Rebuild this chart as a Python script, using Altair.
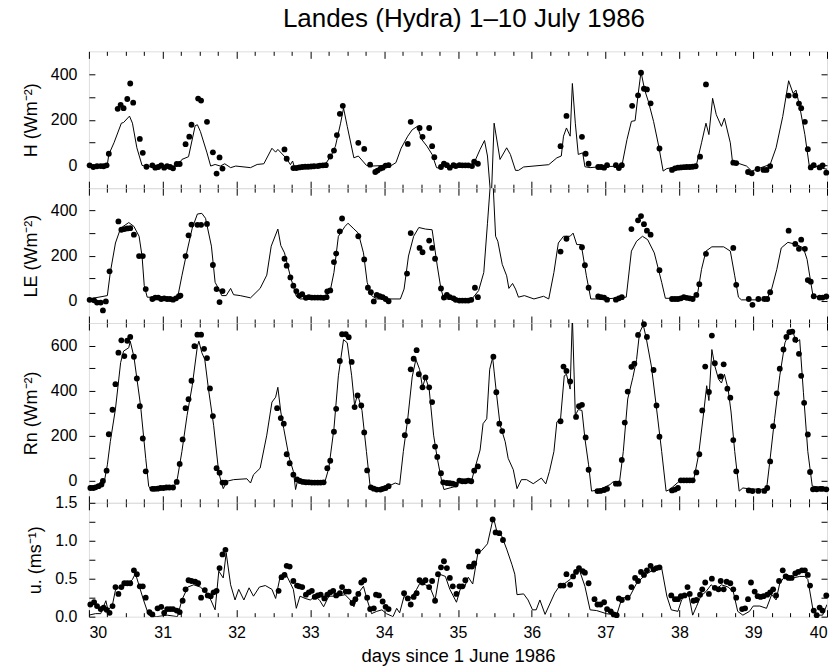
import altair as alt
import pandas as pd

TITLE = "Landes (Hydra) 1\u201310 July 1986"
X_TITLE = "days since 1 June 1986"

H_MODEL = [(30.00,0),(30.25,4),(30.27,48),(30.34,99),(30.44,185),(30.47,188),(30.55,216),(30.59,185),(30.65,77),(30.72,0),(30.79,-6),(31.20,-3),(31.26,26),(31.35,38),(31.44,174),(31.47,178),(31.51,149),(31.60,55),(31.65,-3),(31.71,4),(31.78,-3),(31.84,7),(31.92,-10),(31.99,-3),(32.19,-10),(32.28,4),(32.37,7),(32.48,75),(32.53,58),(32.56,70),(32.68,29),(32.73,3),(32.76,19),(32.78,-3),(33.20,3),(33.29,48),(33.34,84),(33.41,185),(33.45,251),(33.50,171),(33.59,33),(33.65,41),(33.76,0),(33.83,-3),(34.03,0),(34.10,0),(34.16,12),(34.23,75),(34.32,128),(34.38,156),(34.45,171),(34.51,113),(34.58,84),(34.65,48),(34.71,-10),(34.78,-14),(34.81,0),(35.20,-3),(35.30,70),(35.36,109),(35.40,41),(35.45,-160),(35.49,185),(35.57,26),(35.66,77),(35.71,48),(35.78,-22),(35.82,-22),(35.89,-7),(36.23,3),(36.34,33),(36.40,41),(36.43,128),(36.47,164),(36.52,128),(36.55,359),(36.59,185),(36.63,48),(36.69,55),(36.72,-6),(36.79,-10),(36.93,-6),(37.22,-3),(37.29,113),(37.35,193),(37.40,196),(37.44,309),(37.48,410),(37.53,330),(37.58,280),(37.65,193),(37.72,84),(37.78,-25),(37.83,-14),(37.87,-12),(38.23,1),(38.30,99),(38.36,185),(38.40,135),(38.45,294),(38.50,222),(38.57,171),(38.61,207),(38.69,99),(38.72,14),(38.77,12),(38.91,-3),(38.98,-25),(39.07,-14),(39.23,4),(39.31,77),(39.40,214),(39.48,371),(39.54,316),(39.58,330),(39.63,258),(39.70,135),(39.76,-3),(39.81,0),(39.90,-10),(40.00,-17)]

H_OBS = [(30.01,0),(30.06,-7),(30.11,-4),(30.16,-3),(30.20,-4),(30.24,0),(30.27,51),(30.39,248),(30.43,265),(30.47,251),(30.52,291),(30.56,359),(30.60,275),(30.69,116),(30.73,55),(30.78,-6),(30.86,0),(30.90,-10),(30.94,-7),(30.98,0),(31.02,-10),(31.06,-3),(31.10,-7),(31.14,-13),(31.19,6),(31.23,6),(31.31,93),(31.36,126),(31.39,178),(31.48,293),(31.52,284),(31.60,191),(31.68,57),(31.73,-36),(31.77,35),(31.81,-14),
         (32.65,70),(32.68,29),(32.77,-12),(32.81,-12),(32.85,-9),(32.89,-7),(32.93,-6),(32.97,-6),(33.01,-5),(33.05,-4),(33.10,-3),(33.13,-1),(33.17,0),(33.21,1),(33.27,39),(33.32,65),(33.36,133),(33.40,226),(33.44,261),(33.65,99),(33.73,72),(33.81,3),(33.88,-29),(33.91,-23),(33.95,-14),(33.98,-10),(34.02,-1),(34.06,1),
         (34.32,94),(34.36,191),(34.48,164),(34.52,125),(34.61,164),(34.65,84),(34.68,36),(34.77,-7),(34.81,7),(34.85,1),(34.89,-10),(34.94,1),(34.97,-3),(35.02,1),(35.06,0),(35.10,0),(35.14,0),(35.19,-3),(35.22,16),(35.27,7),
         (36.39,84),(36.47,217),(36.68,125),(36.73,51),(36.77,7),(36.90,-7),(36.94,-7),(36.98,-10),(37.02,1),(37.14,1),(37.18,-12),(37.22,1),(37.36,261),(37.44,307),(37.48,406),(37.52,336),(37.56,333),(37.61,272),(37.73,74),
         (37.90,-20),(37.94,-13),(37.98,-10),(38.02,-9),(38.06,-8),(38.10,-7),(38.14,-7),(38.18,-6),(38.22,-4),(38.28,38),(38.36,355),(38.73,12),(38.77,10),(38.93,-29),(38.98,-35),(39.06,-16),(39.14,-20),(39.18,-20),(39.23,-3),(39.48,306),(39.57,306),(39.62,271),(39.65,251),(39.70,191),(39.74,71),(39.78,-9),(39.82,1),(39.90,-9),(39.94,0),(39.99,-32)]

LE_MODEL = [(30.00,7),(30.25,22),(30.29,125),(30.36,256),(30.43,322),(30.54,347),(30.61,330),(30.68,286),(30.72,198),(30.75,66),(30.79,15),(31.20,10),(31.26,110),(31.33,220),(31.40,322),(31.47,385),(31.53,388),(31.58,366),(31.66,242),(31.71,81),(31.76,51),(31.80,22),(31.86,22),(31.92,54),(31.96,26),(32.05,22),(32.19,12),(32.32,54),(32.41,113),(32.47,242),(32.56,318),(32.60,245),(32.65,212),(32.73,107),(32.81,19),(32.86,7),(33.20,10),(33.27,44),(33.32,125),(33.38,286),(33.47,330),(33.51,344),(33.58,322),(33.65,300),(33.72,212),(33.77,81),(33.83,22),(33.90,7),(34.22,7),(34.27,51),(34.33,198),(34.40,286),(34.47,325),(34.56,318),(34.65,315),(34.72,154),(34.77,51),(34.81,7),(35.19,7),(35.28,44),(35.35,125),(35.40,344),(35.45,570),(35.47,560),(35.51,286),(35.54,264),(35.60,161),(35.66,110),(35.69,54),(35.74,76),(35.78,51),(35.82,15),(35.90,22),(36.03,7),(36.16,19),(36.23,7),(36.30,125),(36.36,256),(36.43,286),(36.52,286),(36.56,300),(36.61,249),(36.67,249),(36.74,110),(36.80,7),(37.00,7),(37.28,15),(37.35,220),(37.42,264),(37.50,286),(37.57,271),(37.66,212),(37.76,81),(37.81,10),(37.96,10),(38.19,15),(38.25,37),(38.30,139),(38.36,220),(38.44,239),(38.60,239),(38.69,220),(38.75,110),(38.80,15),(38.84,3),(39.18,3),(39.25,51),(39.32,139),(39.38,234),(39.47,259),(39.59,249),(39.68,234),(39.73,183),(39.78,81),(39.81,22),(40.00,7)]

LE_OBS = [(30.01,3),(30.07,1),(30.11,-9),(30.16,-9),(30.19,-44),(30.23,-4),(30.28,130),(30.40,352),(30.44,315),(30.48,318),(30.52,321),(30.56,322),(30.61,293),(30.68,198),(30.73,198),(30.77,51),(30.86,7),(30.90,13),(30.94,13),(30.98,7),(31.02,10),(31.06,7),(31.10,7),(31.14,4),(31.18,10),(31.22,19),(31.24,22),(31.31,198),(31.35,290),(31.39,338),(31.47,337),(31.52,337),(31.60,341),(31.68,158),(31.73,51),(31.77,-7),(31.81,42),
          (32.65,186),(32.68,155),(32.73,103),(32.77,66),(32.81,42),(32.85,22),(32.89,28),(32.94,12),(32.98,15),(33.02,13),(33.06,13),(33.10,13),(33.14,13),(33.18,12),(33.22,15),(33.23,41),(33.27,45),(33.32,171),(33.35,209),(33.40,308),(33.43,365),(33.65,286),(33.73,183),(33.78,57),(33.82,37),(33.86,-4),(33.90,25),(33.94,19),(33.98,15),(34.02,7),(34.06,-3),
          (34.31,120),(34.36,300),(34.48,234),(34.52,215),(34.61,267),(34.65,234),(34.69,186),(34.77,54),(34.81,13),(34.85,25),(34.89,15),(34.94,10),(34.97,3),(35.02,0),(35.06,0),(35.10,0),(35.14,0),(35.18,3),(35.23,57),(35.27,15),
          (36.39,218),(36.47,275),(36.68,237),(36.72,157),(36.77,57),(36.90,18),(36.94,15),(36.98,13),(37.02,4),(37.14,4),(37.18,10),(37.22,15),(37.35,318),(37.44,357),(37.48,376),(37.52,340),(37.56,311),(37.61,293),(37.73,135),
          (37.90,7),(37.94,7),(37.98,7),(38.02,10),(38.06,15),(38.10,12),(38.14,10),(38.18,7),(38.23,25),(38.27,73),(38.36,208),(38.73,234),(38.77,70),(38.94,7),(38.99,-19),(39.07,7),(39.15,7),(39.19,7),(39.23,37),(39.48,311),(39.57,252),(39.62,230),(39.65,271),(39.70,230),(39.74,91),(39.78,84),(39.82,19),(39.90,13),(39.94,13),(39.99,18)]

RN_MODEL = [(30.00,-26),(30.16,-22),(30.21,-4),(30.25,69),(30.29,172),(30.36,318),(30.43,524),(30.47,575),(30.54,590),(30.56,619),(30.61,550),(30.70,333),(30.77,98),(30.81,-26),(30.84,-41),(31.15,-34),(31.20,10),(31.26,128),(31.33,289),(31.40,421),(31.47,597),(31.49,619),(31.53,568),(31.57,538),(31.62,406),(31.69,245),(31.76,32),(31.82,-37),(31.87,-4),(31.96,3),(32.14,7),(32.19,-12),(32.23,25),(32.32,54),(32.41,201),(32.48,348),(32.53,370),(32.56,414),(32.60,304),(32.64,230),(32.71,106),(32.77,40),(32.80,-41),(32.83,3),(33.20,-4),(33.25,54),(33.32,230),(33.38,465),(33.45,626),(33.50,612),(33.56,465),(33.60,333),(33.64,384),(33.70,311),(33.76,128),(33.81,-26),(33.88,-41),(34.06,-26),(34.15,-12),(34.21,-19),(34.26,128),(34.32,274),(34.38,460),(34.43,538),(34.48,494),(34.52,414),(34.56,458),(34.61,406),(34.67,201),(34.72,98),(34.78,-4),(34.81,-41),(34.98,-26),(35.02,-4),(35.18,-7),(35.23,54),(35.30,135),(35.34,252),(35.39,274),(35.43,494),(35.47,546),(35.52,392),(35.57,248),(35.64,172),(35.68,98),(35.75,47),(35.80,-37),(35.86,3),(35.93,3),(36.02,-15),(36.13,10),(36.19,-16),(36.24,40),(36.30,128),(36.34,260),(36.39,274),(36.44,465),(36.47,472),(36.52,406),(36.55,730),(36.59,289),(36.63,315),(36.68,311),(36.72,186),(36.77,69),(36.81,-48),(36.92,-41),(37.06,-19),(37.10,-7),(37.19,-4),(37.24,128),(37.30,362),(37.37,458),(37.42,538),(37.46,656),(37.51,692),(37.55,634),(37.62,509),(37.68,348),(37.76,128),(37.82,-48),(37.87,-41),(37.97,-12),(38.00,-4),(38.19,-4),(38.26,113),(38.33,304),(38.37,421),(38.40,355),(38.44,582),(38.48,509),(38.53,450),(38.57,433),(38.61,472),(38.66,406),(38.70,304),(38.75,128),(38.81,-48),(38.86,-34),(38.95,-38),(39.18,-41),(39.22,69),(39.29,274),(39.36,465),(39.43,612),(39.49,656),(39.54,663),(39.58,612),(39.63,626),(39.68,392),(39.74,128),(39.80,-26),(40.00,-34)]

RN_OBS = [(30.02,-34),(30.06,-34),(30.09,-31),(30.13,-26),(30.17,-19),(30.19,-3),(30.24,43),(30.27,205),(30.32,314),(30.36,428),(30.40,568),(30.44,623),(30.48,553),(30.52,621),(30.56,638),(30.61,550),(30.65,453),(30.69,330),(30.73,186),(30.77,40),(30.86,-38),(30.89,-38),(30.93,-37),(30.97,-34),(31.01,-34),(31.05,-32),(31.09,-32),(31.14,-32),(31.19,-7),(31.23,73),(31.27,182),(31.31,321),(31.35,361),(31.39,443),(31.43,597),(31.47,648),(31.52,648),(31.56,585),(31.60,544),(31.64,409),(31.68,286),(31.73,54),(31.77,34),(31.81,-10),(31.85,-10),
          (32.55,321),(32.60,277),(32.64,252),(32.68,116),(32.72,76),(32.77,25),(32.82,4),(32.86,-3),(32.90,-7),(32.94,-9),(32.98,-9),(33.02,-10),(33.06,-10),(33.10,-10),(33.14,-10),(33.18,-9),(33.23,54),(33.27,87),(33.32,216),(33.35,318),(33.40,531),(33.43,650),(33.48,650),(33.52,637),(33.56,527),(33.60,326),(33.64,378),(33.69,333),(33.73,213),(33.77,44),(33.82,-31),(33.86,-37),(33.90,-41),(33.95,-41),(33.98,-38),(34.02,-34),(34.06,-26),
          (34.28,201),(34.32,263),(34.36,494),(34.40,541),(34.44,579),(34.47,472),(34.52,414),(34.56,458),(34.61,414),(34.65,348),(34.69,150),(34.72,104),(34.77,32),(34.80,-9),(34.85,-12),(34.89,-13),(34.93,-15),(34.97,-19),(35.02,-1),(35.06,-4),(35.10,-4),(35.14,-1),(35.18,-4),(35.22,43),(35.27,62),(35.48,550),(35.52,392),(35.56,252),(35.60,219),
          (36.39,263),(36.43,506),(36.47,487),(36.52,440),(36.60,282),(36.64,330),(36.68,336),(36.73,191),(36.77,47),(36.89,-48),(36.93,-47),(36.98,-43),(37.02,-38),(37.14,-15),(37.18,-15),(37.22,91),(37.26,257),(37.30,395),(37.35,505),(37.39,519),(37.44,647),(37.52,695),(37.56,638),(37.65,491),(37.69,333),(37.73,194),(37.90,-45),(37.94,-41),(37.98,-34),(38.02,0),(38.06,0),(38.10,0),(38.14,0),(38.18,0),(38.23,35),(38.27,116),(38.31,311),(38.35,506),(38.40,393),(38.44,644),(38.48,521),(38.56,462),(38.60,516),(38.65,408),(38.69,368),(38.73,179),(38.77,40),(38.94,-45),(38.99,-48),(39.07,-47),(39.15,-47),(39.19,-34),(39.23,84),(39.27,241),(39.32,387),(39.36,497),(39.41,582),(39.45,638),(39.49,659),(39.53,662),(39.57,626),(39.62,563),(39.65,465),(39.69,345),(39.74,204),(39.77,37),(39.81,-40),(39.86,-40),(39.91,-38),(39.94,-38),(39.99,-40)]

U_MODEL = [(30.00,0.02),(30.09,0.04),(30.16,0.04),(30.23,0.21),(30.26,0.08),(30.32,0.16),(30.36,0.35),(30.43,0.40),(30.52,0.42),(30.59,0.49),(30.63,0.57),(30.68,0.41),(30.74,0.22),(30.81,0.02),(30.92,0.00),(31.06,0.02),(31.20,0.00),(31.26,0.22),(31.34,0.39),(31.42,0.42),(31.51,0.39),(31.62,0.29),(31.71,0.09),(31.76,0.60),(31.82,0.51),(31.86,0.84),(31.92,0.42),(31.98,0.22),(32.03,0.36),(32.10,0.22),(32.17,0.38),(32.23,0.27),(32.31,0.39),(32.39,0.41),(32.48,0.36),(32.53,0.24),(32.59,0.52),(32.66,0.58),(32.73,0.44),(32.77,0.36),(32.81,0.11),(32.86,0.27),(32.93,0.24),(33.00,0.22),(33.07,0.27),(33.13,0.21),(33.18,0.13),(33.25,0.27),(33.32,0.27),(33.38,0.27),(33.47,0.29),(33.54,0.22),(33.59,0.13),(33.65,0.31),(33.72,0.40),(33.77,0.22),(33.83,0.04),(33.90,0.07),(33.97,0.09),(34.03,0.04),(34.12,0.00),(34.17,0.11),(34.21,0.05),(34.27,0.27),(34.31,0.22),(34.38,0.27),(34.44,0.36),(34.49,0.45),(34.56,0.42),(34.62,0.39),(34.69,0.22),(34.75,0.56),(34.83,0.53),(34.89,0.36),(34.98,0.19),(35.03,0.36),(35.09,0.39),(35.14,0.52),(35.20,0.43),(35.27,0.84),(35.32,0.87),(35.40,0.96),(35.48,1.31),(35.53,1.11),(35.59,1.07),(35.66,0.89),(35.73,0.69),(35.77,0.56),(35.80,0.29),(35.89,0.30),(35.95,0.22),(36.01,0.09),(36.06,0.09),(36.11,0.22),(36.18,0.03),(36.25,0.18),(36.31,0.31),(36.38,0.41),(36.45,0.44),(36.52,0.49),(36.58,0.56),(36.65,0.60),(36.72,0.40),(36.79,0.09),(36.88,0.08),(37.01,0.04),(37.15,0.02),(37.22,0.24),(37.33,0.27),(37.42,0.44),(37.55,0.56),(37.69,0.64),(37.76,0.64),(37.83,0.27),(37.89,0.09),(37.98,0.07),(38.03,0.22),(38.09,0.29),(38.13,0.27),(38.18,0.02),(38.23,0.13),(38.29,0.27),(38.36,0.33),(38.43,0.42),(38.50,0.36),(38.57,0.42),(38.66,0.39),(38.73,0.33),(38.79,0.07),(38.86,0.02),(38.95,0.07),(39.00,0.14),(39.09,0.14),(39.18,0.11),(39.25,0.29),(39.31,0.22),(39.36,0.44),(39.45,0.56),(39.54,0.51),(39.63,0.53),(39.70,0.53),(39.74,0.49),(39.81,0.09),(39.88,0.02),(39.94,0.02),(40.00,0.16)]

U_OBS = [(30.02,0.16),(30.07,0.19),(30.11,0.14),(30.16,0.10),(30.20,0.12),(30.24,0.09),(30.28,0.05),(30.32,0.14),(30.36,0.39),(30.40,0.30),(30.44,0.39),(30.48,0.44),(30.52,0.44),(30.56,0.44),(30.61,0.61),(30.65,0.56),(30.69,0.40),(30.73,0.40),(30.77,0.25),(30.82,0.06),(30.86,0.03),(30.93,0.11),(30.98,0.13),(31.02,0.05),(31.06,0.10),(31.10,0.10),(31.14,0.10),(31.19,0.08),(31.23,0.06),(31.27,0.21),(31.31,0.36),(31.35,0.48),(31.39,0.47),(31.44,0.46),(31.48,0.44),(31.52,0.25),(31.57,0.35),(31.61,0.28),(31.65,0.27),(31.69,0.32),(31.73,0.34),(31.77,0.64),(31.81,0.82),(31.85,0.88),
         (32.57,0.34),(32.61,0.52),(32.65,0.55),(32.68,0.67),(32.72,0.66),(32.77,0.47),(32.82,0.41),(32.85,0.40),(32.89,0.39),(32.94,0.29),(32.98,0.32),(33.02,0.34),(33.06,0.26),(33.10,0.28),(33.14,0.29),(33.19,0.24),(33.23,0.29),(33.27,0.32),(33.31,0.34),(33.35,0.28),(33.40,0.31),(33.43,0.39),(33.48,0.33),(33.52,0.33),(33.57,0.18),(33.61,0.23),(33.65,0.30),(33.69,0.45),(33.73,0.48),(33.77,0.25),(33.81,0.10),(33.86,0.11),(33.89,0.29),(33.93,0.28),(33.98,0.20),(34.02,0.13),(34.06,0.10),
         (34.27,0.31),(34.32,0.24),(34.36,0.16),(34.40,0.26),(34.44,0.31),(34.48,0.48),(34.52,0.45),(34.56,0.48),(34.61,0.39),(34.65,0.47),(34.69,0.21),(34.73,0.56),(34.77,0.65),(34.81,0.73),(34.85,0.64),(34.89,0.51),(34.93,0.40),(34.98,0.30),(35.02,0.40),(35.06,0.40),(35.10,0.48),(35.15,0.66),(35.19,0.66),(35.22,0.70),(35.27,0.86),(35.47,1.28),(35.51,1.11),(35.56,1.10),(35.61,1.01),
         (36.39,0.41),(36.43,0.41),(36.47,0.56),(36.52,0.42),(36.56,0.53),(36.60,0.59),(36.64,0.64),(36.69,0.60),(36.72,0.58),(36.77,0.44),(36.85,0.23),(36.89,0.16),(36.93,0.16),(36.98,0.19),(37.02,0.10),(37.07,0.07),(37.11,0.03),(37.15,0.02),(37.18,0.24),(37.22,0.22),(37.30,0.25),(37.35,0.39),(37.40,0.51),(37.44,0.47),(37.48,0.59),(37.52,0.55),(37.56,0.61),(37.61,0.67),(37.65,0.62),(37.69,0.64),(37.73,0.65),
         (37.89,0.28),(37.94,0.23),(37.98,0.23),(38.02,0.27),(38.07,0.28),(38.11,0.39),(38.14,0.30),(38.19,0.21),(38.23,0.22),(38.28,0.29),(38.31,0.36),(38.35,0.45),(38.40,0.30),(38.44,0.50),(38.48,0.38),(38.53,0.36),(38.56,0.47),(38.60,0.36),(38.64,0.46),(38.69,0.44),(38.73,0.36),(38.77,0.25),(38.85,0.10),(38.89,0.11),(38.93,0.23),(38.97,0.45),(39.02,0.33),(39.06,0.27),(39.10,0.26),(39.14,0.27),(39.19,0.29),(39.23,0.32),(39.27,0.36),(39.31,0.28),(39.35,0.47),(39.40,0.61),(39.44,0.53),(39.48,0.51),(39.52,0.51),(39.57,0.57),(39.61,0.59),(39.66,0.61),(39.70,0.61),(39.74,0.55),(39.77,0.41),(39.82,0.08),(39.86,0.02),(39.90,0.12),(39.94,0.08),(39.99,0.28)]

X_MAJOR = list(range(30, 41))
X_MINOR = [30 + i * 0.25 for i in range(41) if i % 4 != 0]

FONT = "Liberation Sans"
W = 739


def panel(model, obs, ytitle, ydomain, yticks, label_expr, height, last=False):
    dm = pd.DataFrame(model, columns=["day", "v"])
    do = pd.DataFrame(obs, columns=["day", "v"])
    xs = alt.Scale(domain=[30, 40], nice=False, zero=False)
    ys = alt.Scale(domain=ydomain, nice=False, zero=False)
    tick = dict(domain=False, grid=False, tickColor="black", tickWidth=1)

    if last:
        ax_bmaj = alt.Axis(orient="bottom", values=X_MAJOR, tickSize=7, offset=-7,
                           labelPadding=8, labelFontSize=16, labelFont=FONT, labelColor="black",
                           title=X_TITLE, titleFontSize=18.5, titleFont=FONT,
                           titleFontWeight="normal", titleColor="black", titlePadding=6, **tick)
    else:
        ax_bmaj = alt.Axis(orient="bottom", values=X_MAJOR, tickSize=7, offset=-7,
                           labels=False, title=None, **tick)
    ax_bmin = alt.Axis(orient="bottom", values=X_MINOR, tickSize=4, offset=-4, labels=False, title=None, **tick)
    ax_tmaj = alt.Axis(orient="top", values=X_MAJOR, tickSize=7, offset=-7, labels=False, title=None, **tick)
    ax_tmin = alt.Axis(orient="top", values=X_MINOR, tickSize=4, offset=-4, labels=False, title=None, **tick)

    ax_left = alt.Axis(orient="left", values=yticks, tickSize=6, offset=-6, labelPadding=12,
                       labelExpr=label_expr, labelFontSize=16, labelFont=FONT, labelColor="black",
                       title=ytitle, titleFontSize=18, titleFont=FONT, titleFontWeight="normal",
                       titleColor="black", titlePadding=10, **tick)
    ax_right = alt.Axis(orient="right", values=yticks, tickSize=6, offset=-6, labels=False, title=None, **tick)

    line = alt.Chart(dm).mark_line(color="black", strokeWidth=1, clip=True).encode(
        x=alt.X("day:Q", scale=xs, axis=ax_bmaj),
        y=alt.Y("v:Q", scale=ys, axis=ax_left),
    )
    pts = alt.Chart(do).mark_circle(color="black", size=34, opacity=1).encode(
        x=alt.X("day:Q", scale=xs, axis=ax_bmin),
        y=alt.Y("v:Q", scale=ys, axis=ax_right),
    )
    g1 = alt.Chart(dm).mark_line(strokeOpacity=0).encode(
        x=alt.X("day:Q", scale=xs, axis=ax_tmaj),
        y=alt.Y("v:Q", scale=ys, axis=None),
    )
    g2 = alt.Chart(dm).mark_line(strokeOpacity=0).encode(
        x=alt.X("day:Q", scale=xs, axis=ax_tmin),
        y=alt.Y("v:Q", scale=ys, axis=None),
    )
    return alt.layer(line, pts, g1, g2).resolve_axis(x="independent", y="independent").properties(
        width=W, height=height)


even200 = "datum.value % 200 == 0 ? datum.label : ''"
half = "abs(datum.value * 2 - round(datum.value * 2)) < 1e-6 ? format(datum.value, '.1f') : ''"

p1 = panel(H_MODEL, H_OBS, "H (Wm\u207b\u00b2)", [-100, 500], [0, 100, 200, 300, 400], even200, 137)
p2 = panel(LE_MODEL, LE_OBS, "LE (Wm\u207b\u00b2)", [-100, 500], [0, 100, 200, 300, 400], even200, 135)
p3 = panel(RN_MODEL, RN_OBS, "Rn (Wm\u207b\u00b2)", [-100, 700], [0, 100, 200, 300, 400, 500, 600], even200, 180)
p4 = panel(U_MODEL, U_OBS, "u. (ms\u207b\u00b9)", [0, 1.5], [0, 0.25, 0.5, 0.75, 1.0, 1.25, 1.5], half, 114, last=True)

chart = alt.vconcat(p1, p2, p3, p4, spacing=0, bounds="flush").properties(
    title=alt.TitleParams(TITLE, fontSize=26, font=FONT, fontWeight="normal", color="black",
                          anchor="middle", frame="group", offset=18, dx=6),
    padding={"left": 21, "top": 6, "right": 8, "bottom": 4},
).configure_view(stroke="black", strokeWidth=1).configure(background="white")

chart.save("out.html", embed_options={"renderer": "svg", "actions": False})
